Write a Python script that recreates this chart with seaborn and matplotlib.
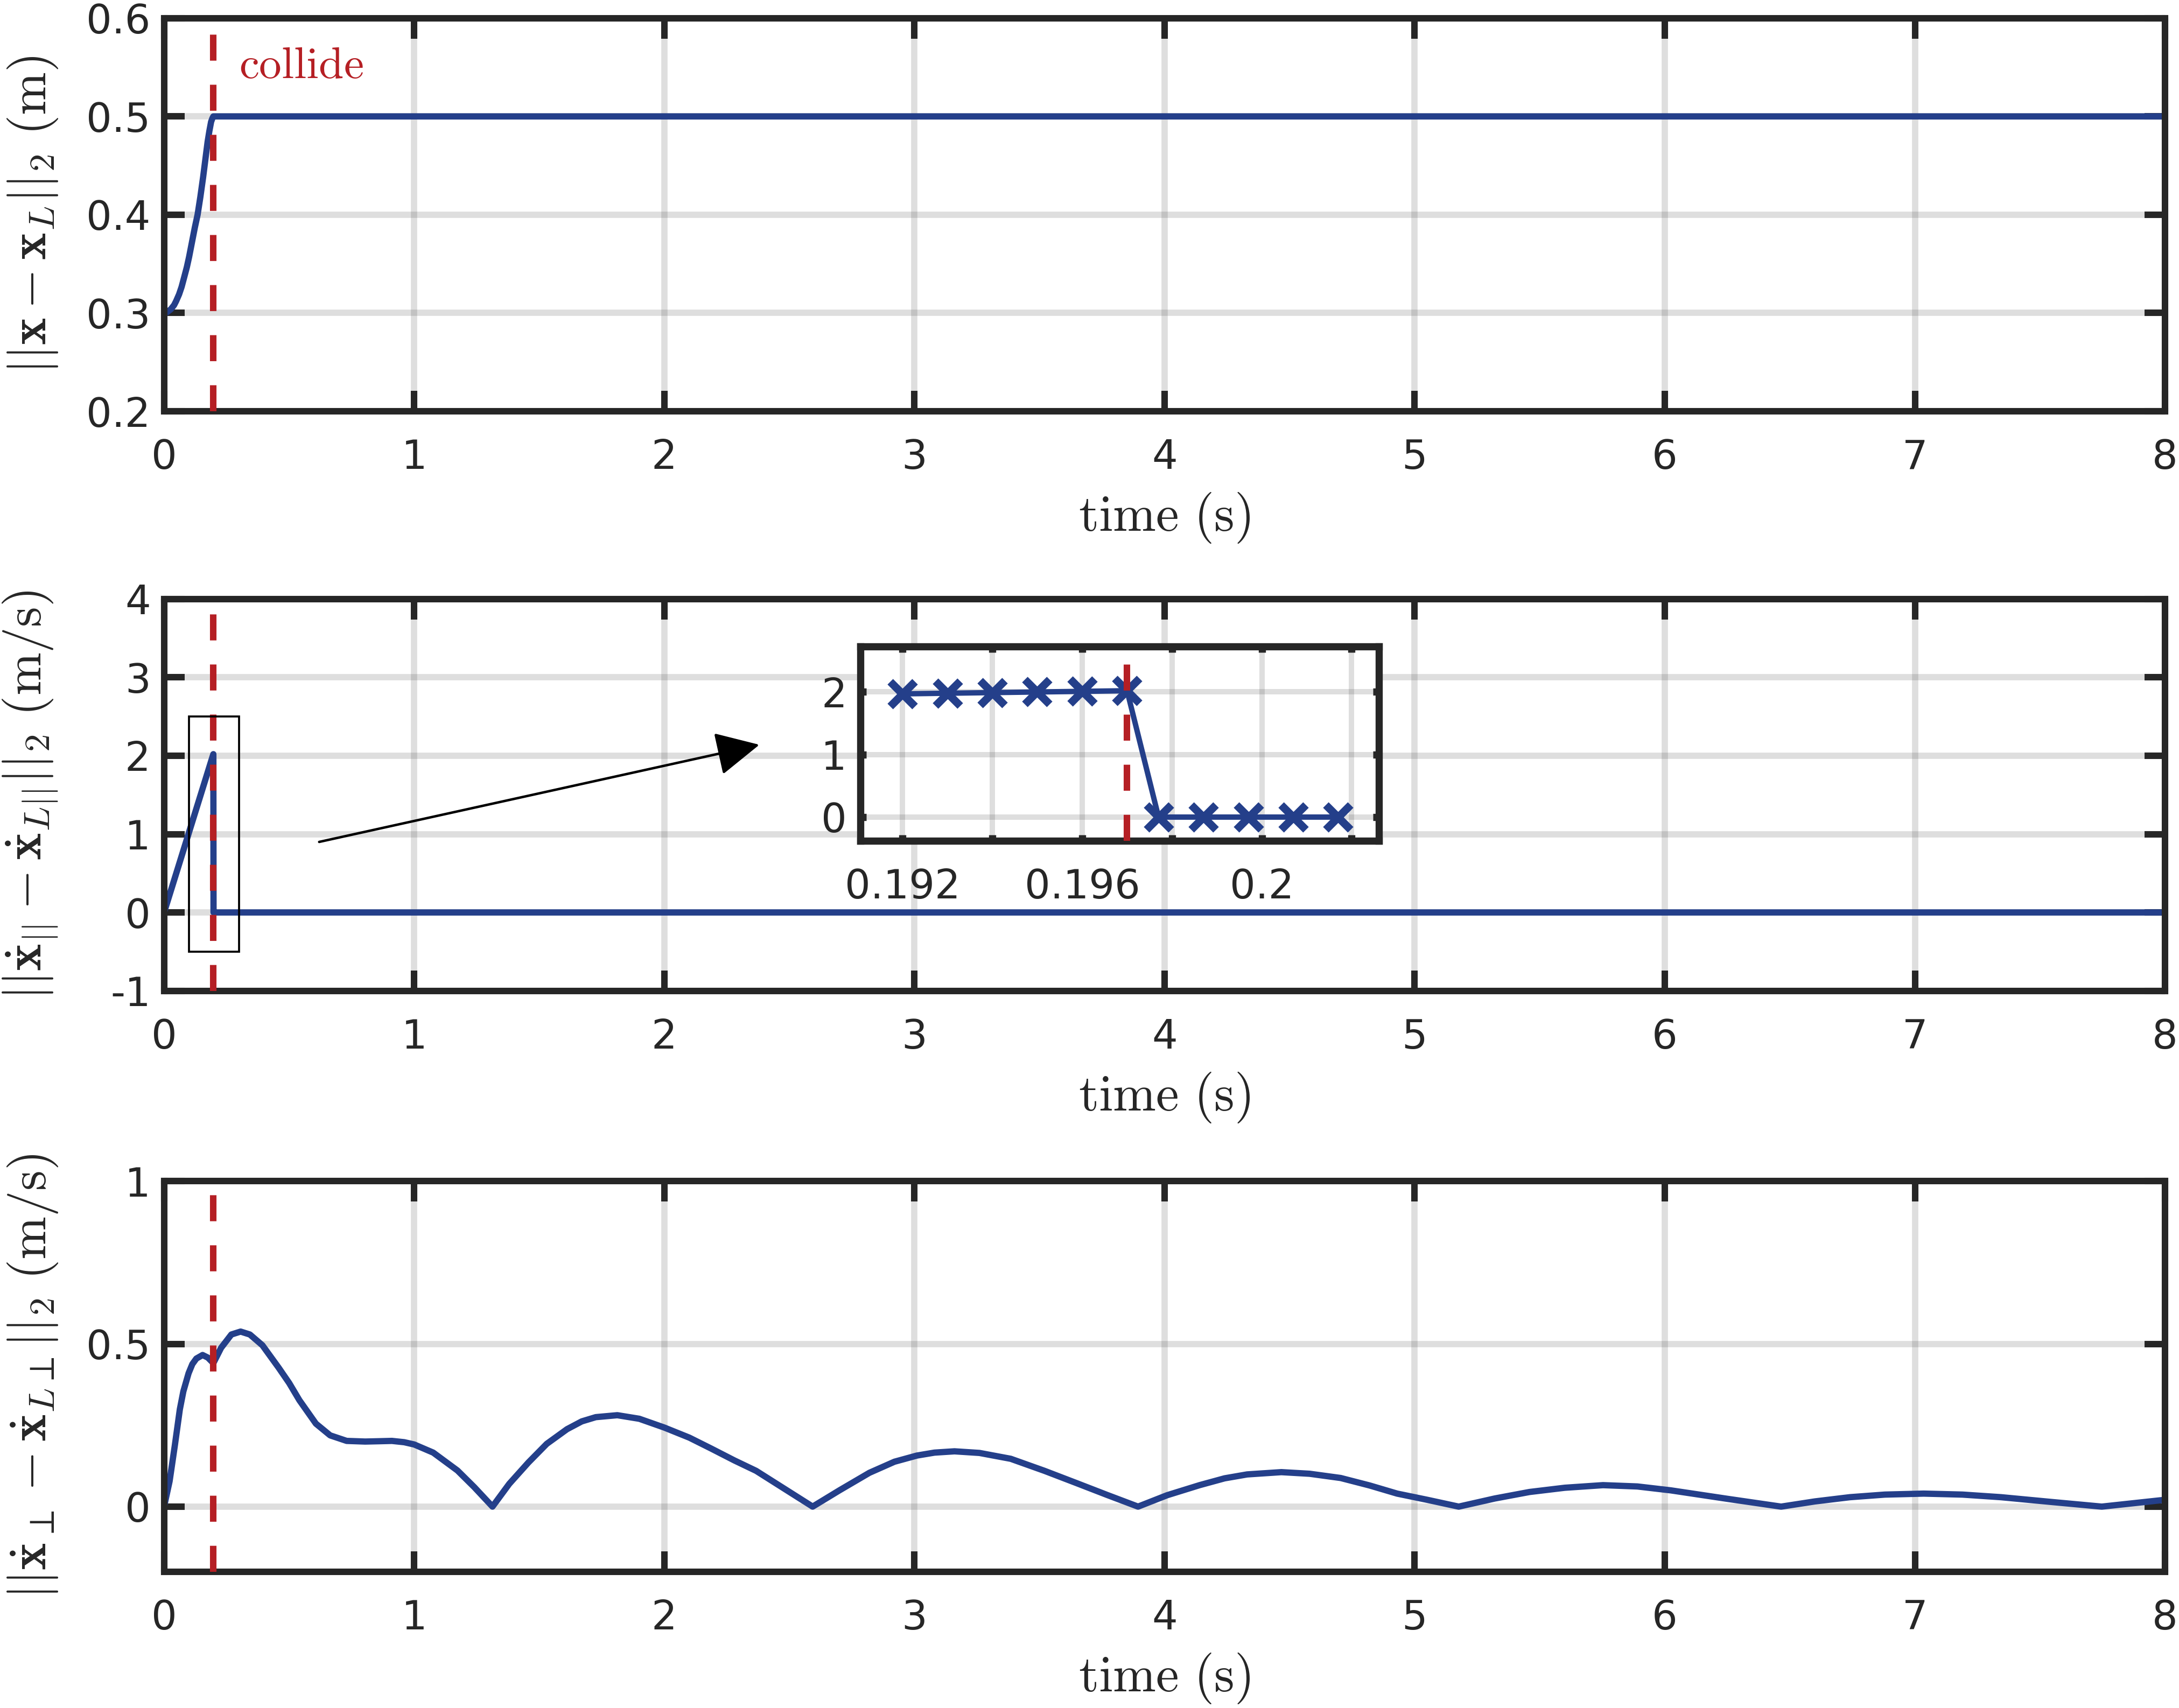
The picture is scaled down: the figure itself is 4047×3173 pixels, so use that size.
import matplotlib
matplotlib.use("Agg")
import matplotlib.pyplot as plt
import seaborn as sns
from matplotlib.patches import Rectangle

# values
t_collide = 0.197

# panel 1: position error
t_pos = [0, 0.01, 0.0265, 0.04, 0.048, 0.06, 0.07, 0.08, 0.091, 0.1, 0.113, 0.123, 0.134,
         0.145, 0.156, 0.165, 0.174, 0.181, 0.188, 0.193, 0.197, 8.0]
d_pos = [0.3, 0.3005, 0.3037, 0.308, 0.312, 0.319, 0.3265, 0.336, 0.3466, 0.357, 0.374,
         0.387, 0.4, 0.418, 0.438, 0.456, 0.474, 0.485, 0.4945, 0.498, 0.5, 0.5]

# inset samples around the collision
t_zoom_pre = [0.192, 0.193, 0.194, 0.195, 0.196, 0.197]
v_zoom_pre = [1.97, 1.98, 1.99, 2.0, 2.01, 2.02]
t_zoom_post = [0.1977, 0.1987, 0.1997, 0.2007, 0.2017]
v_zoom_post = [0, 0, 0, 0, 0]

# panel 2: parallel velocity error
t_par = [0.0] + t_zoom_pre + t_zoom_post + [8.0]
v_par = [0.0] + v_zoom_pre + v_zoom_post + [0.0]

# panel 3: perpendicular velocity error
t_perp = [0, 0.022, 0.043, 0.063, 0.077, 0.098, 0.113, 0.129, 0.154, 0.175, 0.197, 0.228,
          0.269, 0.306, 0.343, 0.393, 0.458, 0.5, 0.541, 0.607, 0.664, 0.73, 0.804, 0.86,
          0.911, 0.96, 1.0, 1.076, 1.173, 1.24, 1.313, 1.38, 1.457, 1.53, 1.611, 1.67,
          1.726, 1.812, 1.9, 2.0, 2.1, 2.186, 2.28, 2.367, 2.48, 2.593, 2.7, 2.82, 2.92,
          3.01, 3.08, 3.16, 3.26, 3.385, 3.52, 3.649, 3.77, 3.894, 4.01, 4.14, 4.24, 4.33,
          4.467, 4.58, 4.704, 4.82, 4.93, 5.05, 5.176, 5.32, 5.459, 5.6, 5.753, 5.89,
          6.024, 6.25, 6.465, 6.6, 6.74, 6.88, 7.035, 7.19, 7.344, 7.55, 7.747, 8.0]
v_perp = [0, 0.078, 0.188, 0.299, 0.354, 0.41, 0.438, 0.455, 0.466, 0.458, 0.441, 0.488,
          0.529, 0.538, 0.529, 0.496, 0.427, 0.38, 0.327, 0.255, 0.219, 0.202, 0.2, 0.201,
          0.202, 0.198, 0.191, 0.166, 0.111, 0.06, 0.0, 0.07, 0.136, 0.193, 0.238, 0.262,
          0.275, 0.281, 0.27, 0.243, 0.212, 0.179, 0.142, 0.11, 0.055, 0.0, 0.05, 0.104,
          0.138, 0.157, 0.166, 0.17, 0.165, 0.147, 0.11, 0.072, 0.036, 0.0, 0.035, 0.066,
          0.087, 0.099, 0.106, 0.101, 0.088, 0.065, 0.04, 0.021, 0.0, 0.025, 0.045, 0.058,
          0.066, 0.062, 0.05, 0.024, 0.0, 0.016, 0.029, 0.037, 0.04, 0.037, 0.029, 0.014,
          0.0, 0.021]

x_ticks = [0, 1, 2, 3, 4, 5, 6, 7, 8]
zoom_box = (0.1, 0.3, -0.5, 2.5)          # t0, t1, v0, v1
arrow_from = (0.62, 0.9)
arrow_to = (2.38, 2.14)
inset_xticks = [0.192, 0.194, 0.196, 0.198, 0.2, 0.202]
inset_xlabels = ["0.192", "", "0.196", "", "0.2", ""]

BLUE = "#243f8a"
RED = "#b51f24"
DARK = "#262626"
LW_LINE = 2.8
DASH = (4.0, 3.7)

sns.set_theme(style="ticks")
plt.rcParams["font.family"] = ["DejaVu Sans"]
plt.rcParams["mathtext.fontset"] = "cm"
plt.rcParams["axes.edgecolor"] = DARK
plt.rcParams["text.color"] = DARK
plt.rcParams["axes.labelcolor"] = DARK
plt.rcParams["xtick.color"] = DARK
plt.rcParams["ytick.color"] = DARK

fig = plt.figure(figsize=(4047 / 300, 3173 / 300), dpi=300)
ax1 = fig.add_axes([0.0753, 0.7592, 0.9183, 0.2302])
ax2 = fig.add_axes([0.0753, 0.4199, 0.9183, 0.2294])
ax3 = fig.add_axes([0.0753, 0.0798, 0.9183, 0.2286])


def style_axes(ax, tick_len=9.2, pad_x=12, pad_y=6, lw=2.9, grid_lw=2.8):
    for s in ax.spines.values():
        s.set_linewidth(lw)
        s.set_color(DARK)
    ax.tick_params(direction="in", top=True, right=True, length=tick_len, width=lw,
                   labelsize=18, colors=DARK)
    ax.tick_params(axis="x", pad=pad_x)
    ax.tick_params(axis="y", pad=pad_y)
    ax.grid(True, color=DARK, alpha=0.15, linewidth=grid_lw)
    ax.set_axisbelow(True)


def collide_line(ax, **kw):
    ax.axvline(t_collide, color=RED, linewidth=2.9, dashes=DASH, zorder=5, **kw)


# panel 1
sns.lineplot(x=t_pos, y=d_pos, ax=ax1, color=BLUE, linewidth=LW_LINE, estimator=None, sort=False)
collide_line(ax1)
ax1.set_xlim(0, 8)
ax1.set_ylim(0.2, 0.6)
ax1.set_yticks([0.2, 0.3, 0.4, 0.5, 0.6])
ax1.set_yticklabels(["0.2", "0.3", "0.4", "0.5", "0.6"])
ax1.set_ylabel(r"$||\mathbf{x}-\mathbf{x}_L||_2\ (\mathrm{m})$", fontsize=23)
ax1.text(0.30, 0.539, r"$\mathrm{collide}$", color=RED, fontsize=20, ha="left", va="baseline")

# panel 2
sns.lineplot(x=t_par, y=v_par, ax=ax2, color=BLUE, linewidth=LW_LINE, estimator=None, sort=False)
collide_line(ax2)
ax2.set_xlim(0, 8)
ax2.set_ylim(-1, 4)
ax2.set_yticks([-1, 0, 1, 2, 3, 4])
ax2.set_yticklabels(["-1", "0", "1", "2", "3", "4"])
ax2.set_ylabel(r"$||\dot{\mathbf{x}}_{||}-\dot{\mathbf{x}}_{L||}||_2\ (\mathrm{m/s})$", fontsize=23)
ax2.add_patch(Rectangle((zoom_box[0], zoom_box[2]), zoom_box[1] - zoom_box[0],
                        zoom_box[3] - zoom_box[2], fill=False, edgecolor="black",
                        linewidth=0.9, zorder=6))
ax2.annotate("", xy=arrow_to, xytext=arrow_from,
             arrowprops=dict(arrowstyle="-|>", color="black", lw=1.1,
                             mutation_scale=42, shrinkA=0, shrinkB=0))

# panel 3
sns.lineplot(x=t_perp, y=v_perp, ax=ax3, color=BLUE, linewidth=LW_LINE, estimator=None, sort=False)
collide_line(ax3)
ax3.set_xlim(0, 8)
ax3.set_ylim(-0.2, 1)
ax3.set_yticks([0, 0.5, 1])
ax3.set_yticklabels(["0", "0.5", "1"])
ax3.set_ylabel(r"$||\dot{\mathbf{x}}_{\perp}-\dot{\mathbf{x}}_{L\perp}||_2\ (\mathrm{m/s})$", fontsize=23)

for ax in (ax1, ax2, ax3):
    style_axes(ax)
    ax.set_xticks(x_ticks)
    ax.set_xlabel(r"$\mathrm{time\ (s)}$", fontsize=23, labelpad=6)
    ax.yaxis.set_label_coords(-0.052, 0.5)

# inset
axin = fig.add_axes([0.3948, 0.5077, 0.2379, 0.1139])
axin.set_facecolor("white")
sns.lineplot(x=t_zoom_pre + t_zoom_post, y=v_zoom_pre + v_zoom_post, ax=axin, color=BLUE,
             linewidth=2.4, marker="x", markersize=11, markeredgewidth=3.5,
             markeredgecolor=BLUE, estimator=None, sort=False)
axin.axvline(t_collide, ymax=0.93, color=RED, linewidth=2.9, dashes=DASH, zorder=5)
axin.set_xlim(0.19106, 0.2026)
axin.set_ylim(-0.38, 2.73)
axin.set_xticks(inset_xticks)
axin.set_xticklabels(inset_xlabels)
axin.set_yticks([0, 1, 2])
axin.set_yticklabels(["0", "1", "2"])
style_axes(axin, tick_len=2.7, pad_x=12, pad_y=6, lw=3.2, grid_lw=2.4)
axin.set_xlabel("")
axin.set_ylabel("")

fig.savefig("out.png", dpi=300)
